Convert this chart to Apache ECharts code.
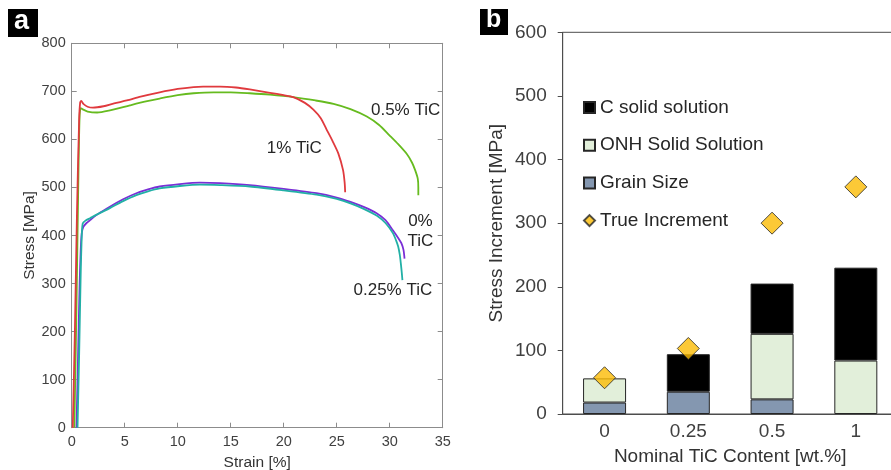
<!DOCTYPE html>
<html>
<head>
<meta charset="utf-8">
<script src="https://cdn.jsdelivr.net/npm/echarts@6/dist/echarts.min.js"></script>
<style>
  html, body { margin: 0; padding: 0; background: #fff; }
  #chart { width: 891px; height: 470px; }
</style>
</head>
<body>
<div id="chart"></div>
<script>
// (a) engineering stress-strain curves: [strain %, stress MPa]
const curve1TiC = [[0.1,0],[0.3,200],[0.5,450],[0.7,640],[0.8,677],[0.9,680],[1.1,674],[1.5,668],[2.0,666],[3,669],[4,675],[5.2,681],[6.5,689],[8.3,698],[10,705],[11.5,709],[12.4,710],[14,710],[15.5,708],[16.8,704],[18.7,697],[20,692],[20.9,688],[22,676],[22.8,662],[23.5,644],[24.06,620],[24.6,597],[25.15,571],[25.6,536],[25.75,510],[25.8,490]];
const curve05TiC = [[0.25,0],[0.45,250],[0.65,550],[0.75,650],[0.85,665],[1.0,663],[1.5,658],[2.4,656],[3.5,660],[5.5,671],[7,679],[8.3,685],[10,692],[11.5,696],[13.4,698],[15,698],[16.8,696],[18.7,693],[20.9,688],[23,681],[24.7,674],[26.3,663],[27.8,648],[29,630],[30,608],[30.8,590],[31.6,570],[32.1,552],[32.4,536],[32.65,518],[32.7,500],[32.7,484]];
const curve0TiC = [[0.45,0],[0.6,150],[0.75,300],[0.85,370],[0.95,405],[1.1,418],[1.4,426],[1.73,432],[2.5,445],[3.6,460],[4.8,475],[6.1,488],[7.2,496],[8.3,502],[10.2,507],[12.1,510],[14,509],[16.8,505],[20,497],[23.1,488],[25,479],[26.3,470],[27.6,459],[28.8,446],[29.6,432],[30.3,411],[30.8,395],[31.1,384],[31.3,370],[31.4,352]];
const curve025TiC = [[0.55,0],[0.7,150],[0.85,320],[0.95,400],[1.04,425],[1.3,431],[1.73,436],[2.5,445],[3.6,457],[4.8,471],[6.1,484],[7.2,492],[8.3,498],[10.2,503],[12.1,506],[14,505],[16.8,502],[20,494],[23.1,485],[25,476],[26.3,467],[27.6,455],[28.8,441],[29.6,426],[30.3,405],[30.6,390],[30.8,377],[30.95,360],[31.05,342],[31.15,320],[31.2,307]];

// (b) strengthening contributions per TiC content (MPa)
const tiContent = ['0', '0.25', '0.5', '1'];
const grainSize = [18, 35, 23, null];
const onhSolution = [38, null, 103, 84];
const cSolution = [null, 59, 79, 146];
const trueIncrement = [57, 103, 300, 357];

const FONT = 'Liberation Sans, Arial, sans-serif';
const chart = echarts.init(document.getElementById('chart'), null, { renderer: 'canvas' });

function curveLabel(text, strain, stress) {
  return {
    symbol: 'circle', symbolSize: 1, silent: true,
    itemStyle: { color: 'rgba(0,0,0,0)' },
    label: { show: true, position: 'inside', color: '#262626', fontFamily: FONT, fontSize: 17, lineHeight: 20 },
    data: [{ coord: [strain, stress], value: text, label: { formatter: text } }]
  };
}

function curve(name, data, color, label) {
  return {
    name, type: 'line', xAxisIndex: 0, yAxisIndex: 0, data,
    showSymbol: false, smooth: 0.25, animation: false,
    lineStyle: { color, width: 1.8 }, itemStyle: { color },
    markPoint: label
  };
}

const leftAxisColor = '#8c8c8c';
const rightAxisColor = '#4d4d4d';

// frame axes for panel (a): line + inward ticks, no labels
function frameAxis(type, position, min, max, interval) {
  return {
    type: 'value', gridIndex: 0, position, min, max, interval,
    axisLine: { show: true, onZero: false, lineStyle: { color: leftAxisColor, width: 1 } },
    axisTick: { show: true, inside: true, length: 5, lineStyle: { color: leftAxisColor } },
    axisLabel: { show: false }, splitLine: { show: false }
  };
}

chart.setOption({
  animation: false,
  backgroundColor: '#fff',
  textStyle: { fontFamily: FONT },
  grid: [
    { left: 71.7, top: 43.3, width: 371, height: 384.4, outerBoundsMode: 'none' },
    { left: 562.7, top: 32.3, width: 335, height: 381.7, outerBoundsMode: 'none',
      show: true, borderColor: rightAxisColor, borderWidth: 1 }
  ],
  xAxis: [
    { type: 'value', gridIndex: 0, position: 'bottom', min: 0, max: 35, interval: 5,
      name: 'Strain [%]', nameLocation: 'middle', nameGap: 24,
      nameTextStyle: { fontFamily: FONT, fontSize: 15.5, color: '#333' },
      axisLine: { show: true, onZero: false, lineStyle: { color: leftAxisColor, width: 1 } },
      axisTick: { show: true, inside: true, length: 5, lineStyle: { color: leftAxisColor } },
      axisLabel: { fontFamily: FONT, fontSize: 14.5, color: '#404040', margin: 7 },
      splitLine: { show: false } },
    frameAxis('x', 'top', 0, 35, 5),
    { type: 'category', gridIndex: 1, data: tiContent, boundaryGap: true,
      name: 'Nominal TiC Content [wt.%]', nameLocation: 'middle', nameGap: 33,
      nameTextStyle: { fontFamily: FONT, fontSize: 19, color: '#333' },
      axisLine: { show: true, lineStyle: { color: rightAxisColor, width: 1 } },
      axisTick: { show: false },
      axisLabel: { fontFamily: FONT, fontSize: 19, color: '#404040', margin: 8 } }
  ],
  yAxis: [
    { type: 'value', gridIndex: 0, position: 'left', min: 0, max: 800, interval: 100,
      name: 'Stress [MPa]', nameLocation: 'middle', nameGap: 34,
      nameTextStyle: { fontFamily: FONT, fontSize: 15.5, color: '#333' },
      axisLine: { show: true, onZero: false, lineStyle: { color: leftAxisColor, width: 1 } },
      axisTick: { show: true, inside: true, length: 5, lineStyle: { color: leftAxisColor } },
      axisLabel: { fontFamily: FONT, fontSize: 14.5, color: '#404040', margin: 6 },
      splitLine: { show: false } },
    frameAxis('y', 'right', 0, 800, 100),
    { type: 'value', gridIndex: 1, min: 0, max: 600, interval: 100,
      name: 'Stress Increment [MPa]', nameLocation: 'middle', nameGap: 56,
      nameTextStyle: { fontFamily: FONT, fontSize: 19, color: '#333' },
      axisLine: { show: true, lineStyle: { color: rightAxisColor, width: 1 } },
      axisTick: { show: true, inside: false, length: 5, lineStyle: { color: rightAxisColor } },
      axisLabel: { fontFamily: FONT, fontSize: 19, color: '#404040', margin: 16 },
      splitLine: { show: false } }
  ],
  legend: {
    orient: 'vertical', left: 578, top: 92.5, itemGap: 17.7,
    itemWidth: 11, itemHeight: 11,
    textStyle: { fontFamily: FONT, fontSize: 19, color: '#262626', lineHeight: 20 },
    data: [
      { name: 'C solid solution', icon: 'rect' },
      { name: 'ONH Solid Solution', icon: 'rect' },
      { name: 'Grain Size', icon: 'rect' },
      { name: 'True Increment', icon: 'diamond' }
    ]
  },
  graphic: [
    { type: 'rect', left: 8, top: 9, shape: { width: 30, height: 28 }, style: { fill: '#000' } },
    { type: 'text', left: 14, top: 8, style: { text: 'a', fill: '#fff', font: 'bold 27px ' + FONT } },
    { type: 'rect', left: 480, top: 9, shape: { width: 28, height: 26 }, style: { fill: '#000' } },
    { type: 'text', left: 486, top: 8, style: { text: 'b', fill: '#fff', font: 'bold 25px ' + FONT } }
  ],
  series: [
    curve('0% TiC', curve0TiC, '#7a2fd6', curveLabel('0%\nTiC', 32.9, 408)),
    curve('0.25% TiC', curve025TiC, '#22b0a6', curveLabel('0.25% TiC', 30.3, 285)),
    curve('0.5% TiC', curve05TiC, '#66bb1f', curveLabel('0.5% TiC', 31.5, 661)),
    curve('1% TiC', curve1TiC, '#e03a3e', curveLabel('1% TiC', 21.0, 581)),
    { name: 'Grain Size', type: 'bar', stack: 'inc', xAxisIndex: 2, yAxisIndex: 2,
      data: grainSize, barWidth: 43,
      itemStyle: { color: '#8497b0', borderColor: '#262626', borderWidth: 1 } },
    { name: 'ONH Solid Solution', type: 'bar', stack: 'inc', xAxisIndex: 2, yAxisIndex: 2,
      data: onhSolution, barWidth: 43,
      itemStyle: { color: '#e2efda', borderColor: '#262626', borderWidth: 1 } },
    { name: 'C solid solution', type: 'bar', stack: 'inc', xAxisIndex: 2, yAxisIndex: 2,
      data: cSolution, barWidth: 43,
      itemStyle: { color: '#000000', borderColor: '#262626', borderWidth: 1 } },
    { name: 'True Increment', type: 'scatter', xAxisIndex: 2, yAxisIndex: 2,
      data: trueIncrement, symbol: 'diamond', symbolSize: 22, z: 5,
      itemStyle: { color: '#fbbc05', borderColor: '#262626', borderWidth: 1 } }
  ]
});
</script>
</body>
</html>
